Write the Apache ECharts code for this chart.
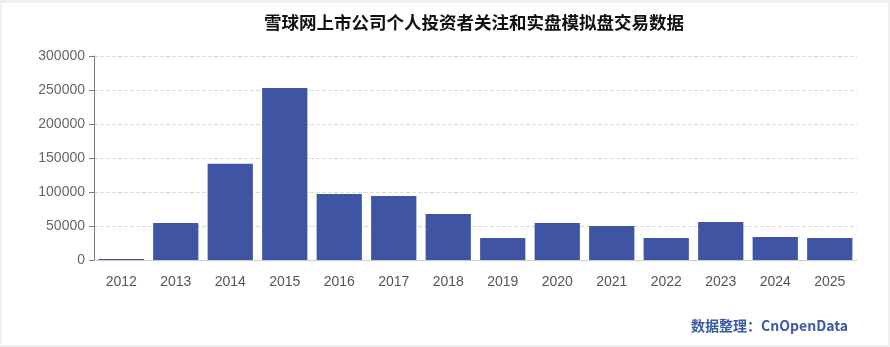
<!DOCTYPE html>
<html>
<head>
<meta charset="utf-8">
<script src="https://cdn.jsdelivr.net/npm/echarts@6/dist/echarts.min.js"></script>
<style>
  html, body { margin: 0; padding: 0; background: #f0f0f0; }
  #chart { position: absolute; left: 2px; top: 3px; width: 886px; height: 342px; background: #ffffff; }
</style>
</head>
<body>
<div id="chart"></div>
<script>
// Yearly counts of investors following listed companies and trading (real + simulated)
const years = ['2012', '2013', '2014', '2015', '2016', '2017', '2018', '2019', '2020', '2021', '2022', '2023', '2024', '2025'];
const counts = [1500, 54500, 141500, 253000, 97000, 94000, 67500, 32500, 54500, 50000, 32500, 56000, 34000, 32500];
const yTicks = [0, 50000, 100000, 150000, 200000, 250000, 300000];

const fontFamily = '"Liberation Sans", "Noto Sans CJK SC", sans-serif';
const chart = echarts.init(document.getElementById('chart'));

chart.setOption({
  animation: false,
  textStyle: { fontFamily: fontFamily },
  title: [
    {
      text: '雪球网上市公司个人投资者关注和实盘模拟盘交易数据',
      left: 257,
      top: 6,
      textStyle: { fontSize: 17.5, fontWeight: 'bold', color: '#111', fontFamily: '"Noto Sans CJK SC", sans-serif' }
    },
    {
      text: '数据整理：CnOpenData',
      right: 35,
      top: 311,
      textStyle: { fontSize: 14, fontWeight: 'bold', color: '#3b5aa6', fontFamily: '"Noto Sans CJK SC", sans-serif' }
    }
  ],
  grid: { left: 92, right: 31, top: 53, bottom: 85 },
  xAxis: {
    type: 'category',
    data: years,
    axisLine: { lineStyle: { color: '#cccccc', width: 1 } },
    axisTick: { show: false },
    axisLabel: { color: '#555555', fontSize: 14, margin: 15 }
  },
  yAxis: {
    type: 'value',
    min: yTicks[0],
    max: yTicks[yTicks.length - 1],
    interval: yTicks[1] - yTicks[0],
    axisLine: { show: true, lineStyle: { color: '#777777' } },
    axisTick: { show: true, length: 5, lineStyle: { color: '#777777' } },
    axisLabel: { color: '#666666', fontSize: 14, margin: 9, formatter: (v) => String(v) },
    splitLine: { lineStyle: { color: '#d9d9d9', type: 'dashed' } }
  },
  series: [{
    type: 'bar',
    data: counts,
    barCategoryGap: '17%',
    itemStyle: { color: '#3f55a3' }
  }]
});
</script>
</body>
</html>
